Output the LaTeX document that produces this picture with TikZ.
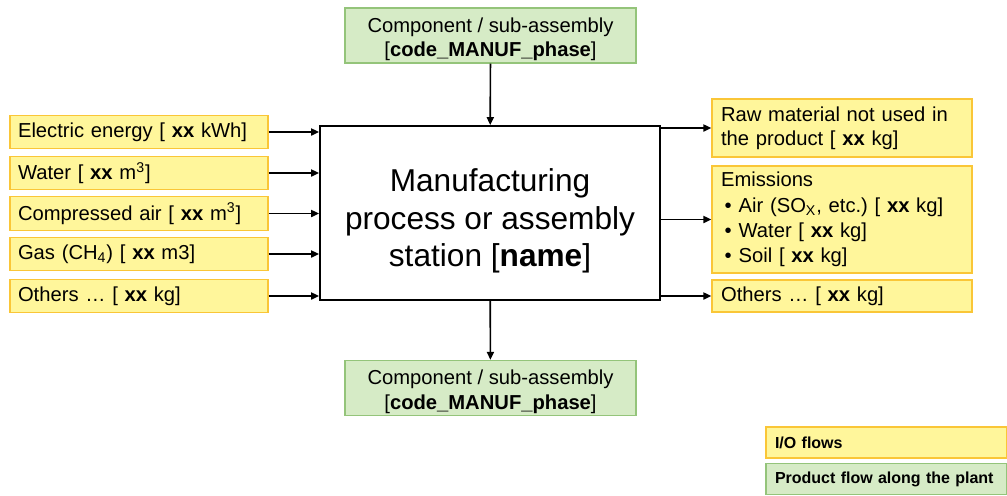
\documentclass[tikz,border=0pt]{standalone}
\usepackage{fontspec}
\setmainfont{Liberation Sans}
\usepackage{xcolor}
\usetikzlibrary{shapes,arrows.meta,positioning}

\definecolor{ioFill}{RGB}{255,246,155}
\definecolor{ioLine}{RGB}{250,198,55}
\definecolor{prodFill}{RGB}{214,235,198}
\definecolor{prodLine}{RGB}{148,196,122}

\begin{document}
\frenchspacing
\begin{tikzpicture}[
    x=0.02cm, y=-0.02cm,
    iobox/.style={rectangle, draw=ioLine, fill=ioFill, line width=0.8pt, minimum height=0.66cm, inner xsep=0.16cm,
        text width=4.84cm, align=left, font=\fontsize{11.5}{13.8}\selectfont},
    outbox/.style={iobox, inner xsep=0.18cm, text width=4.84cm},
    prodbox/.style={rectangle, draw=prodLine, fill=prodFill, line width=0.8pt, minimum width=5.82cm, minimum height=1.1cm,
        inner ysep=0pt, align=center, text height=26.5pt, font=\fontsize{11.5}{13.8}\selectfont},
    procbox/.style={rectangle, draw, line width=1.1pt, minimum width=6.8cm, minimum height=3.48cm, align=center,
        text height=65pt, font=\fontsize{18}{21.5}\selectfont},
    legend/.style={rectangle, line width=0.8pt, minimum height=0.62cm, inner xsep=0.18cm, text width=4.46cm,
        align=left, font=\fontsize{9.1}{11}\selectfont\bfseries},
    arrow/.style={-{Triangle[length=4.5pt,width=4pt]}, line width=0.95pt}
]
    \useasboundingbox (0,0) rectangle (1007,495);

    % Process
    \node[procbox] (proc) at (490,213) {Manufacturing\\process or assembly\\station [\textbf{name}]};

    % Product flow
    \node[prodbox] (compin) at (490.5,35.5) {Component / sub-assembly\\{[}\textbf{code\_MANUF\_phase}{]}};
    \node[prodbox] (compout) at (490.5,388) {Component / sub-assembly\\{[}\textbf{code\_MANUF\_phase}{]}};

    % Inputs
    \node[iobox] (in1) at (139,132) {Electric energy [ \textbf{xx} kWh]};
    \node[iobox] (in2) at (139,173) {Water [ \textbf{xx} m\textsuperscript{3}]};
    \node[iobox] (in3) at (139,213.5) {Compressed air [ \textbf{xx} m\textsuperscript{3}]};
    \node[iobox] (in4) at (139,254) {Gas (CH\textsubscript{4}) [ \textbf{xx} m3]};
    \node[iobox] (in5) at (139,296) {Others \dots\ [ \textbf{xx} kg]};

    % Outputs
    \node[outbox, minimum height=1.16cm] (out1) at (842,128) {Raw material not used in\\the product [ \textbf{xx} kg]};
    \node[outbox, minimum height=2.14cm, font=\fontsize{11.5}{14.4}\selectfont] (out2) at (842,219.5) {Emissions\\
        \hspace{2pt}\textbullet\hspace{4pt}Air (SO\textsubscript{X}, etc.) [ \textbf{xx} kg]\\
        \hspace{2pt}\textbullet\hspace{4pt}Water [ \textbf{xx} kg]\\
        \hspace{2pt}\textbullet\hspace{4pt}Soil [ \textbf{xx} kg]};
    \node[outbox, minimum height=0.64cm] (out3) at (842,296) {Others \dots\ [ \textbf{xx} kg]};

    % Legend
    \node[legend, draw=ioLine, fill=ioFill] (legio) at (886.5,442.5) {I/O flows};
    \node[legend, draw=prodLine, fill=prodFill] (legprod) at (886.5,479) {Product flow along the plant};

    % Arrows
    \draw[arrow] (compin) -- (proc);
    \draw[arrow] (proc) -- (compout);
    \draw[arrow] (in1.east) -- (in1.east -| proc.west);
    \draw[arrow] (in2.east) -- (in2.east -| proc.west);
    \draw[arrow] (in3.east) -- (in3.east -| proc.west);
    \draw[arrow] (in4.east) -- (in4.east -| proc.west);
    \draw[arrow] (in5.east) -- (in5.east -| proc.west);
    \draw[arrow] (proc.east |- out1.west) -- (out1.west);
    \draw[arrow] (proc.east |- out2.west) -- (out2.west);
    \draw[arrow] (proc.east |- out3.west) -- (out3.west);
\end{tikzpicture}
\end{document}
